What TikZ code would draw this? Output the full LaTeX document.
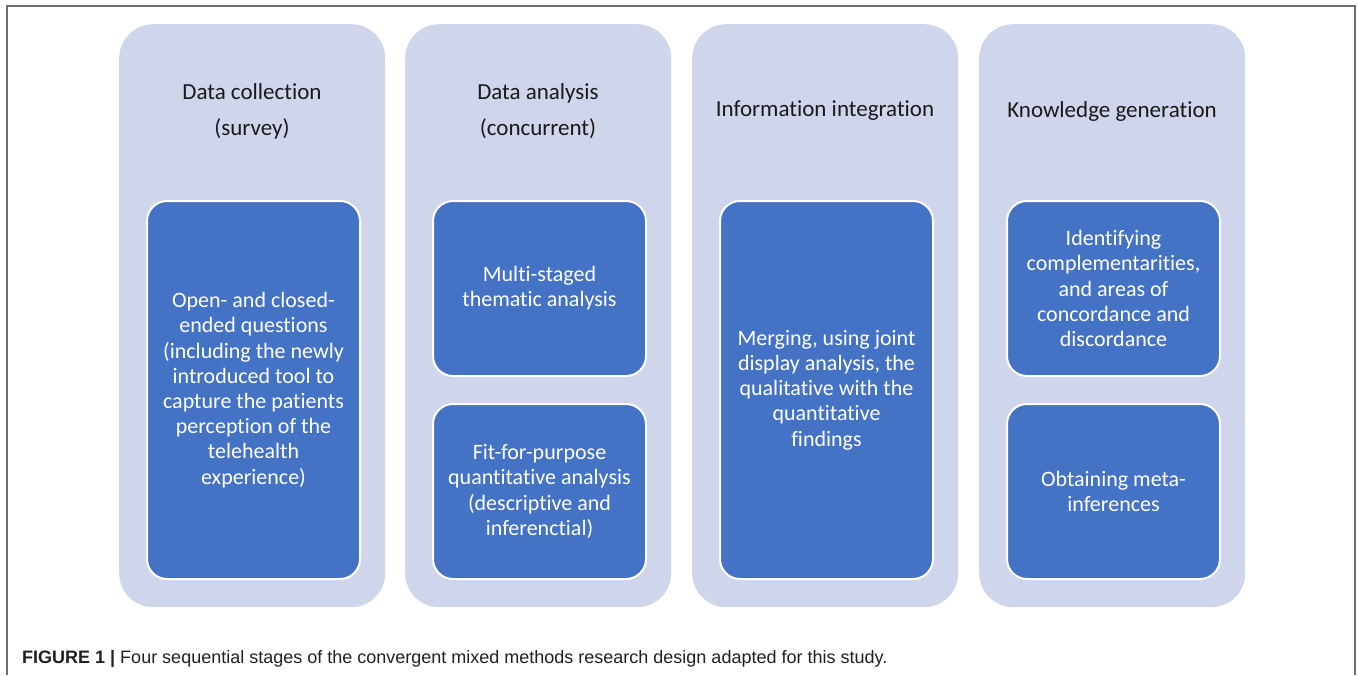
\documentclass[tikz,border=0pt]{standalone}
\usepackage{fontspec}
\setmainfont{Carlito}[Ligatures=NoCommon]
\newfontfamily\capfont{Liberation Sans}
\definecolor{outerc}{HTML}{CFD5EA}
\definecolor{innerc}{HTML}{4472C4}
\definecolor{framec}{HTML}{6E6E6E}
\definecolor{headc}{HTML}{1A1A1A}
\definecolor{capc}{HTML}{231F20}
\tikzset{
  outerbox/.style={rectangle, fill=outerc, rounded corners=34pt, inner sep=0pt,
    minimum width=266pt, minimum height=583pt, anchor=north west},
  innerbox/.style={rectangle, fill=innerc, draw=white, line width=2pt, rounded corners=20pt,
    inner sep=0pt, minimum width=213pt, anchor=north west, text=white, align=center,
    font=\fontsize{22}{25.2}\selectfont},
  headtext/.style={text=headc, align=center, font=\fontsize{23}{36}\selectfont}
}
\begin{document}
\begin{tikzpicture}[x=1pt,y=-1pt]
\useasboundingbox (0,0) rectangle (1358,675);
\draw[framec, line width=1.5pt] (7,675) -- (7,6) -- (1355,6) -- (1355,675);
% outer columns
\node[outerbox] (c1) at (119,24) {};
\node[outerbox] (c2) at (405,24) {};
\node[outerbox] (c3) at (692,24) {};
\node[outerbox] (c4) at (979,24) {};
% headers
\node[headtext] (h1) at (252,111) {Data collection\\(survey)};
\node[headtext] (h2) at (538,111) {Data analysis\\(concurrent)};
\node[headtext] (h3) at (825,111) {Information integration};
\node[headtext] (h4) at (1112,111) {Knowledge generation};
% inner boxes
\node[innerbox, minimum height=378pt] (i1) at (146,200) {Open- and closed-\\ended questions\\(including the newly\\introduced tool to\\capture the patients\\perception of the\\telehealth\\experience)};
\node[innerbox, minimum height=175pt] (i2a) at (432,200) {Multi-staged\\thematic analysis};
\node[innerbox, minimum height=175pt] (i2b) at (432,403) {Fit-for-purpose\\quantitative analysis\\(descriptive and\\inferenctial)};
\node[innerbox, minimum height=378pt] (i3) at (719,200) {Merging, using joint\\display analysis, the\\qualitative with the\\quantitative\\findings};
\node[innerbox, minimum height=175pt] (i4a) at (1006,200) {Identifying\\complementarities,\\and areas of\\concordance and\\discordance};
\node[innerbox, minimum height=175pt] (i4b) at (1006,403) {Obtaining meta-\\inferences};
% caption
\node[anchor=base west, inner sep=0pt, font=\capfont\fontsize{18}{20}\selectfont, text=capc] (cap) at (22,663) {\textbf{FIGURE 1 |} Four sequential stages of the convergent mixed methods research design adapted for this study.};
\end{tikzpicture}
\end{document}
